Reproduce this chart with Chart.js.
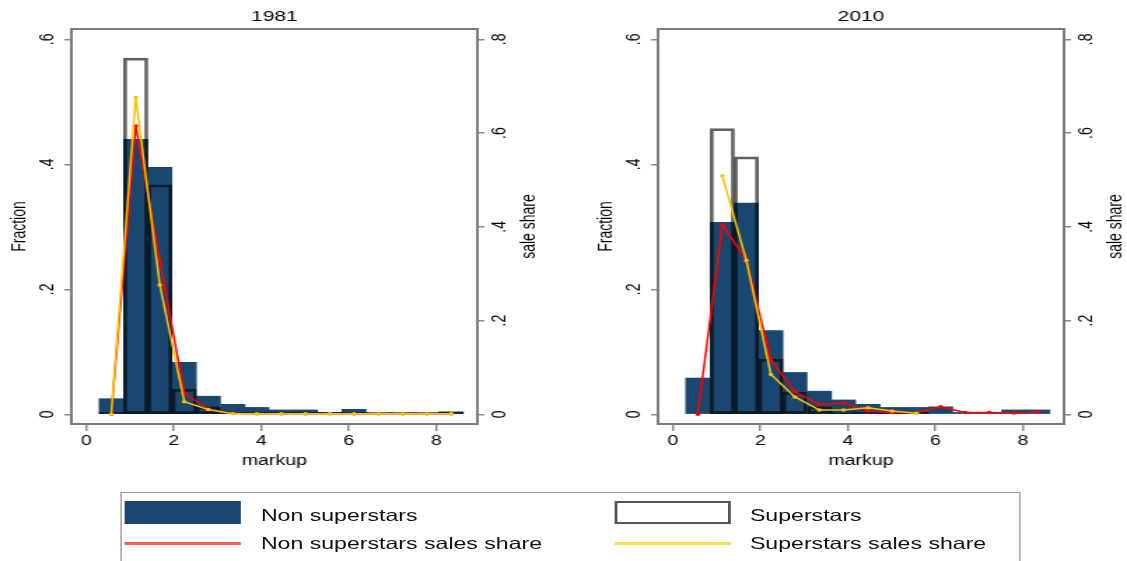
<!DOCTYPE html>
<html>
<head>
<meta charset="utf-8">
<title>Markup distribution 1981 / 2010</title>
<script src="https://cdn.jsdelivr.net/npm/chart.js@4.4.1/dist/chart.umd.min.js"></script>
<style>
  html, body { margin: 0; padding: 0; background: #fff; overflow: hidden; }
  /* the original figure is stretched sideways, so the whole stage is too */
  #stage { position: absolute; left: 0; top: 0; width: 805px; height: 561px;
           transform: scaleX(1.4); transform-origin: 0 0;
           font-family: "Liberation Sans", Arial, sans-serif; }
  canvas { position: absolute; top: 0; }
  #c1981 { left: 0; }
  #c2010 { left: 418.6px; }
  #legend { position: absolute; left: 85.7px; top: 492px; width: 643px; height: 72px;
            border: 1px solid #9a9a9a; box-sizing: border-box; }
  .sw { position: absolute; box-sizing: border-box; }
  .lab { position: absolute; font-size: 16.5px; line-height: 20px; color: #111; white-space: nowrap; }
</style>
</head>
<body>
<div id="stage">
  <canvas id="c1981" width="392" height="480"></canvas>
  <canvas id="c2010" width="392" height="480"></canvas>
  <div id="legend">
    <div class="sw" style="left:2.6px;top:8px;width:83px;height:23px;background:#1a476f;"></div>
    <div class="lab" style="left:99.7px;top:12px;">Non superstars</div>
    <div class="sw" style="left:352px;top:8px;width:83px;height:23px;border:2px solid #555;background:#fff;"></div>
    <div class="lab" style="left:449px;top:12px;">Superstars</div>
    <div class="sw" style="left:2.6px;top:48.5px;width:83px;height:3px;background:rgb(255,90,90);"></div>
    <div class="lab" style="left:99.7px;top:40px;">Non superstars sales share</div>
    <div class="sw" style="left:352px;top:48.5px;width:83px;height:3px;background:rgb(255,221,80);"></div>
    <div class="lab" style="left:449px;top:40px;">Superstars sales share</div>
  </div>
</div>

<script>
/* ========= DATA ========= */

// histogram bin centres (markup)
const binCenters = [0.57, 1.13, 1.68, 2.24, 2.79, 3.35, 3.90, 4.46, 5.01, 5.57, 6.12, 6.68, 7.23, 7.79, 8.34];

const xTicks = [0, 2, 4, 6, 8];
const fracTicks = [0, 0.2, 0.4, 0.6];
const shareTicks = [0, 0.2, 0.4, 0.6, 0.8];

// 1981
const nonFrac1981   = [0.025, 0.44, 0.395, 0.083, 0.029, 0.016, 0.011, 0.007, 0.007, 0.003, 0.008, 0.002, 0.002, 0.002, 0.004];
const superFrac1981 = [0.003, 0.57, 0.367, 0.04, 0.012, 0.003, 0.003, 0.003, 0.003, 0.003, 0.003, 0.003, 0.003, 0.003, 0.003];
const nonShare1981  = [0, 0.615, 0.328, 0.045, 0.011, 0.002, 0.001, 0.001, 0.001, 0.001, 0.001, 0.001, 0.001, 0.001, 0.001];
const superShare1981 = [0, 0.676, 0.276, 0.027, 0.01, 0.001, 0.001, 0.001, 0.001, 0.001, 0.001, 0.001, 0.001, 0.001, 0.001];

// 2010
const nonFrac2010   = [0.058, 0.307, 0.338, 0.134, 0.067, 0.037, 0.023, 0.016, 0.011, 0.011, 0.012, 0.003, 0.003, 0.007, 0.007];
const superFrac2010 = [0, 0.457, 0.412, 0.088, 0.035, 0.012, 0.004, 0.003, 0.003, 0.003, 0, 0, 0, 0, 0];
const nonShare2010  = [0, 0.404, 0.329, 0.116, 0.048, 0.021, 0.024, 0.007, 0.004, 0.004, 0.016, 0.004, 0.004, 0.003, 0.0055];
const superShare2010 = [null, 0.509, 0.328, 0.085, 0.037, 0.009, 0.009, 0.014, 0.007, 0.002, null, null, null, null, null];

/* ========= HELPERS ========= */
const FONT = '"Liberation Sans", Arial, sans-serif';
Chart.defaults.font.family = FONT;
Chart.defaults.color = '#000';

function pairs(values) {
  return binCenters.map((c, i) => ({ x: c, y: values[i] }));
}

function fmt(v) {
  return v === 0 ? '0' : v.toFixed(1).replace(/^0/, '');
}

// grey box round the plot region
const framePlugin = {
  id: 'frame',
  afterDraw(chart) {
    const { ctx, chartArea: a } = chart;
    ctx.save();
    ctx.strokeStyle = '#7c7c7c';
    ctx.lineWidth = 2;
    ctx.strokeRect(a.left, a.top, a.right - a.left, a.bottom - a.top);
    ctx.restore();
  }
};

// right axis title, read bottom to top like the left one
const rightTitlePlugin = {
  id: 'rightTitle',
  afterDraw(chart) {
    const { ctx, chartArea: a } = chart;
    ctx.save();
    ctx.translate(a.right + 37.6, (a.top + a.bottom) / 2);
    ctx.rotate(-Math.PI / 2);
    ctx.font = '14px ' + FONT;
    ctx.fillStyle = '#000';
    ctx.textAlign = 'center';
    ctx.textBaseline = 'middle';
    ctx.fillText('sale share', 0, 0);
    ctx.restore();
  }
};

/* ========= CREATE CHARTS ========= */
function makePanel(id, year, nonFrac, superFrac, nonShare, superShare) {
  return new Chart(document.getElementById(id), {
    type: 'bar',
    data: {
      datasets: [
        {
          type: 'line', label: 'Superstars sales share', yAxisID: 'y1',
          data: pairs(superShare), borderColor: '#f5c400', backgroundColor: '#f5c400',
          borderWidth: 1.5, pointRadius: 1, tension: 0, order: 1
        },
        {
          type: 'line', label: 'Non superstars sales share', yAxisID: 'y1',
          data: pairs(nonShare), borderColor: '#ff0000', backgroundColor: '#ff0000',
          borderWidth: 1.5, pointRadius: 1, tension: 0, order: 2
        },
        {
          label: 'Superstars', yAxisID: 'y', data: pairs(superFrac),
          backgroundColor: 'rgba(0,0,0,0)', borderColor: 'rgba(0,0,0,0.62)',
          borderWidth: 2, borderSkipped: false, order: 3
        },
        {
          label: 'Non superstars', yAxisID: 'y', data: pairs(nonFrac),
          backgroundColor: '#1a476f', borderWidth: 0, order: 4
        }
      ]
    },
    options: {
      responsive: false,
      animation: false,
      layout: { padding: 0 },
      datasets: { bar: { grouped: false, categoryPercentage: 1, barPercentage: 1 } },
      plugins: {
        legend: { display: false },
        tooltip: { enabled: false },
        title: {
          display: true, text: year, color: '#000',
          font: { size: 15, weight: 'normal' }, padding: { top: 8, bottom: 3 }
        }
      },
      scales: {
        x: {
          type: 'linear', min: -0.34, max: 8.94, offset: false,
          afterBuildTicks: s => { s.ticks = xTicks.map(v => ({ value: v })); },
          afterFit: s => { s.height = 56; },
          grid: { drawOnChartArea: false, offset: false, tickLength: 7, color: '#8a8a8a', lineWidth: 1.5 },
          border: { display: false },
          ticks: { font: { size: 14 }, color: '#000', padding: 2, maxRotation: 0 },
          title: { display: true, text: 'markup', font: { size: 14 }, padding: { top: 0, bottom: 10 } }
        },
        y: {
          position: 'left', min: -0.0155, max: 0.6165,
          afterBuildTicks: s => { s.ticks = fracTicks.map(v => ({ value: v })); },
          afterFit: s => { s.width = 51; },
          grid: { drawOnChartArea: false, tickLength: 5, color: '#8a8a8a', lineWidth: 1.5 },
          border: { display: false },
          ticks: { font: { size: 14 }, color: '#000', padding: 6.5, minRotation: 90, maxRotation: 90,
                   crossAlign: 'center', callback: v => fmt(v) },
          title: { display: true, text: 'Fraction', font: { size: 14 }, padding: { top: 5.9, bottom: 0 } }
        },
        y1: {
          position: 'right', min: -0.0207, max: 0.822,
          afterBuildTicks: s => { s.ticks = shareTicks.map(v => ({ value: v })); },
          afterFit: s => { s.width = 51; },
          grid: { drawOnChartArea: false, tickLength: 5, color: '#8a8a8a', lineWidth: 1.5 },
          border: { display: false },
          ticks: { font: { size: 14 }, color: '#000', padding: 5.3, minRotation: 90, maxRotation: 90,
                   crossAlign: 'center', callback: v => fmt(v) }
        }
      }
    },
    plugins: [framePlugin, rightTitlePlugin]
  });
}

/* ========= START ========= */
makePanel('c1981', '1981', nonFrac1981, superFrac1981, nonShare1981, superShare1981);
makePanel('c2010', '2010', nonFrac2010, superFrac2010, nonShare2010, superShare2010);
</script>
</body>
</html>
